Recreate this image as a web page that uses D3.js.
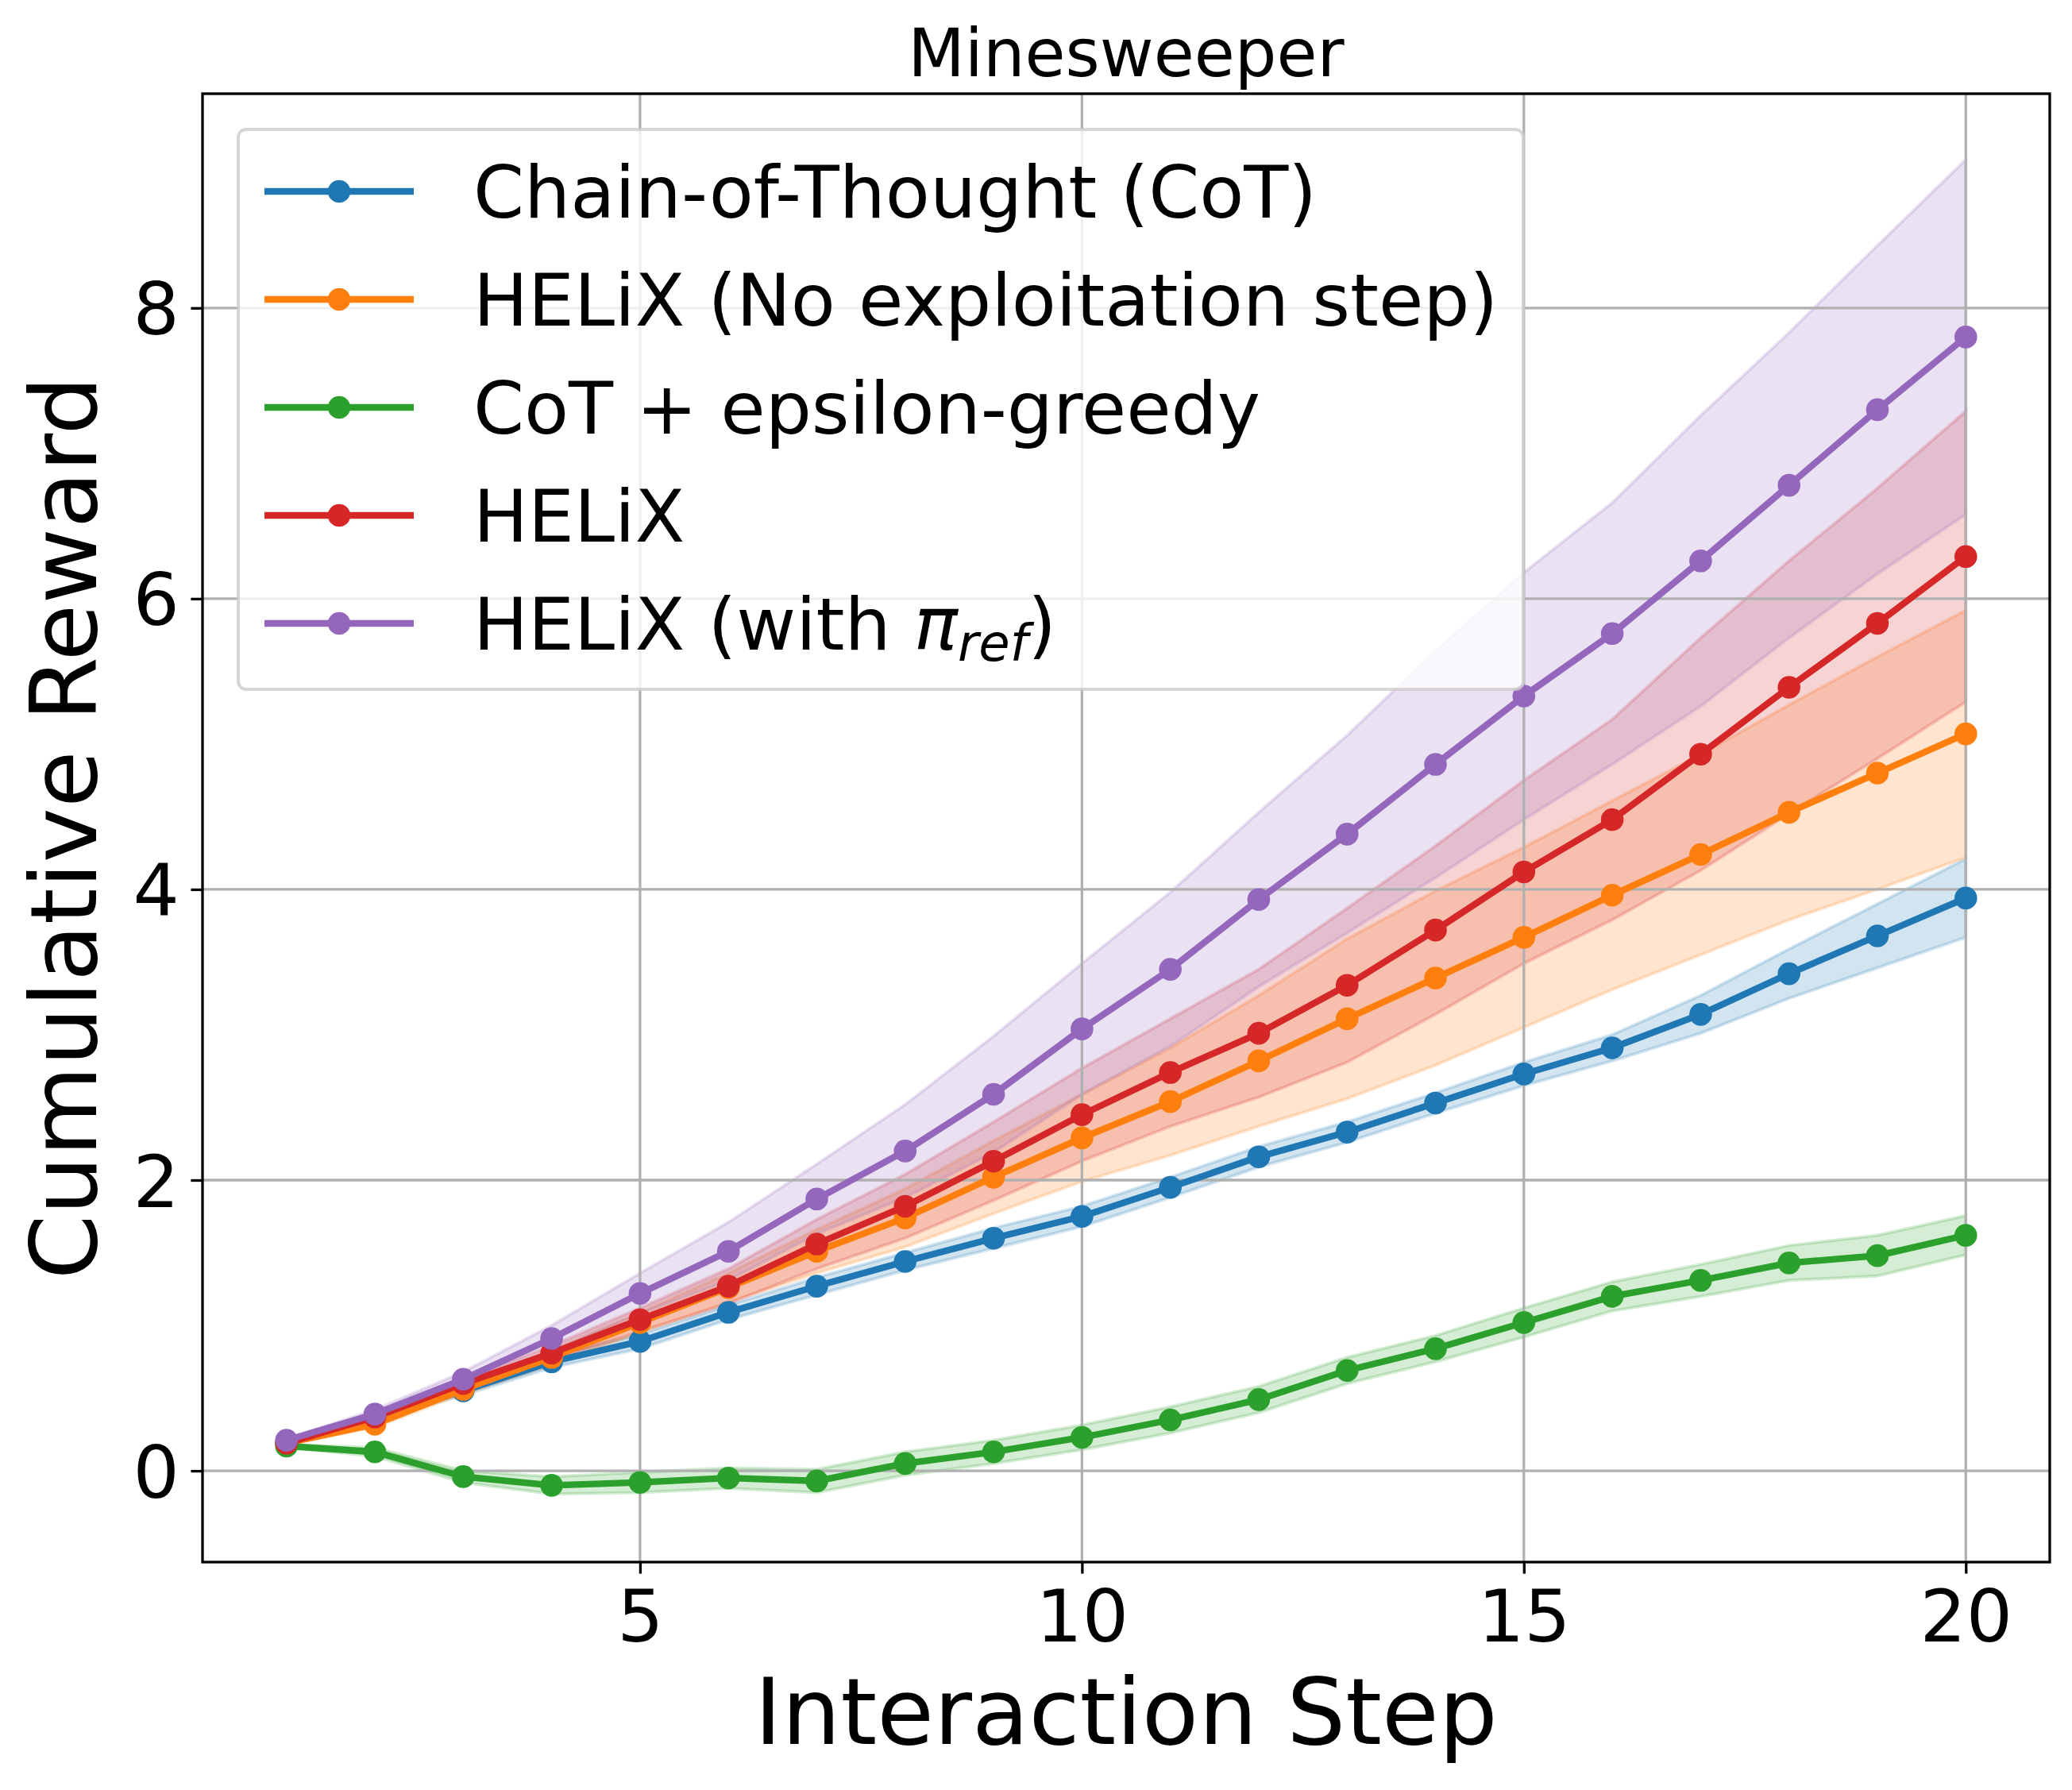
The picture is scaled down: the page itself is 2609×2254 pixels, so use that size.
<!DOCTYPE html>
<html>
<head>
<meta charset="utf-8">
<script src="https://cdn.jsdelivr.net/npm/d3@7"></script>
<style>
  html, body { margin: 0; padding: 0; background: #fff; }
  svg { display: block; font-family: "DejaVu Sans", sans-serif; }
</style>
</head>
<body>
<svg id="chart" width="2609" height="2254"></svg>
<script>
// ---------------- data ----------------
const steps = [1,2,3,4,5,6,7,8,9,10,11,12,13,14,15,16,17,18,19,20];

const seriesNames = [
  "Chain-of-Thought (CoT)",
  "HELiX (No exploitation step)",
  "CoT + epsilon-greedy",
  "HELiX",
  "HELiX (with \u03C0ref)"
];
const seriesColors = ["#1f77b4", "#ff7f0e", "#2ca02c", "#d62728", "#9467bd"];

const cotMean   = [0.19,0.37,0.55,0.75,0.89,1.09,1.27,1.44,1.60,1.75,1.95,2.16,2.33,2.53,2.73,2.91,3.14,3.42,3.68,3.94];
const cotSd     = [0.01,0.02,0.03,0.04,0.05,0.05,0.06,0.06,0.07,0.07,0.07,0.07,0.07,0.07,0.08,0.09,0.13,0.17,0.22,0.27];

const noExpMean = [0.19,0.32,0.56,0.78,1.02,1.26,1.51,1.74,2.02,2.29,2.54,2.82,3.11,3.39,3.67,3.96,4.24,4.53,4.80,5.07];
const noExpSd   = [0.01,0.02,0.03,0.05,0.07,0.10,0.15,0.20,0.25,0.30,0.37,0.45,0.55,0.60,0.62,0.65,0.69,0.74,0.80,0.85];

const epsMean   = [0.17,0.13,-0.04,-0.10,-0.08,-0.05,-0.07,0.05,0.13,0.23,0.35,0.49,0.69,0.84,1.02,1.20,1.31,1.43,1.48,1.62];
const epsSd     = [0.01,0.03,0.04,0.06,0.07,0.07,0.08,0.08,0.08,0.085,0.09,0.09,0.09,0.09,0.10,0.10,0.11,0.12,0.14,0.135];

const helixMean = [0.19,0.37,0.60,0.81,1.04,1.27,1.56,1.82,2.13,2.45,2.74,3.01,3.34,3.72,4.12,4.48,4.93,5.39,5.83,6.29];
const helixSd   = [0.01,0.02,0.03,0.05,0.08,0.12,0.17,0.22,0.27,0.32,0.37,0.44,0.53,0.58,0.63,0.69,0.80,0.87,0.93,1.00];

const refMean   = [0.21,0.39,0.63,0.91,1.22,1.51,1.87,2.20,2.59,3.04,3.45,3.93,4.38,4.86,5.33,5.76,6.26,6.78,7.30,7.80];
const refSd     = [0.01,0.03,0.05,0.09,0.14,0.20,0.24,0.32,0.40,0.45,0.53,0.60,0.68,0.78,0.85,0.90,1.00,1.05,1.13,1.22];

const xTicks = [5, 10, 15, 20];
const yTicks = [0, 2, 4, 6, 8];

const titleText = "Minesweeper";
const xLabel = "Interaction Step";
const yLabel = "Cumulative Reward";

// ---------------- layout ----------------
const L = 255, R = 2581, T = 118, B = 1967;
const svg = d3.select("#chart");
svg.append("rect").attr("width", 2609).attr("height", 2254).attr("fill", "#fff");

const x = d3.scaleLinear().domain([0.05, 20.95]).range([L, R]);
const y = d3.scaleLinear().domain([-0.628, 9.474]).range([B, T]);

const means = [cotMean, noExpMean, epsMean, helixMean, refMean];
const sds = [cotSd, noExpSd, epsSd, helixSd, refSd];
const series = means.map((m, i) => ({
  name: seriesNames[i],
  color: seriesColors[i],
  pts: steps.map((s, j) => ({ s, m: m[j], lo: m[j] - sds[i][j], hi: m[j] + sds[i][j] }))
}));

// bands (below grid)
const area = d3.area().x(d => x(d.s)).y0(d => y(d.lo)).y1(d => y(d.hi));
const gBands = svg.append("g");
series.forEach(s => {
  gBands.append("path")
    .attr("d", area(s.pts))
    .attr("fill", s.color).attr("fill-opacity", 0.2)
    .attr("stroke", s.color).attr("stroke-opacity", 0.2).attr("stroke-width", 4);
});

// grid
const gGrid = svg.append("g").attr("stroke", "#b0b0b0").attr("stroke-width", 3.3);
xTicks.forEach(t => gGrid.append("line").attr("x1", x(t)).attr("x2", x(t)).attr("y1", T).attr("y2", B));
yTicks.forEach(t => gGrid.append("line").attr("x1", L).attr("x2", R).attr("y1", y(t)).attr("y2", y(t)));

// lines + markers
const line = d3.line().x(d => x(d.s)).y(d => y(d.m));
series.forEach(s => {
  const g = svg.append("g");
  g.append("path").attr("d", line(s.pts)).attr("fill", "none")
    .attr("stroke", s.color).attr("stroke-width", 8.3).attr("stroke-linejoin", "round");
  g.selectAll("circle").data(s.pts).join("circle")
    .attr("cx", d => x(d.s)).attr("cy", d => y(d.m)).attr("r", 14.3).attr("fill", s.color);
});

// spines
svg.append("rect").attr("x", L).attr("y", T).attr("width", R - L).attr("height", B - T)
  .attr("fill", "none").attr("stroke", "#000").attr("stroke-width", 3.3);

// axes
const xAxis = svg.append("g").attr("transform", `translate(0,${B})`)
  .call(d3.axisBottom(x).tickValues(xTicks).tickSize(14.6).tickPadding(20).tickFormat(d3.format("d")));
const yAxis = svg.append("g").attr("transform", `translate(${L},0)`)
  .call(d3.axisLeft(y).tickValues(yTicks).tickSize(14.6).tickPadding(14.6).tickFormat(d3.format("d")));
[xAxis, yAxis].forEach(a => {
  a.select(".domain").remove();
  a.selectAll(".tick line").attr("stroke", "#000").attr("stroke-width", 3.3);
  a.selectAll(".tick text").attr("font-size", 91.7).attr("fill", "#000")
    .attr("font-family", "DejaVu Sans");
});
yAxis.selectAll(".tick text").attr("dy", "0.36em");

// labels
svg.append("text").attr("x", (L + R) / 2).attr("y", 96).attr("text-anchor", "middle")
  .attr("font-size", 83).text(titleText);
svg.append("text").attr("x", (L + R) / 2).attr("y", 2196).attr("text-anchor", "middle")
  .attr("font-size", 116.7).text(xLabel);
svg.append("text").attr("transform", `translate(121,${(T + B) / 2}) rotate(-90)`)
  .attr("text-anchor", "middle").attr("font-size", 116.7).text(yLabel);

// legend
const lg = svg.append("g");
lg.append("rect").attr("x", 300).attr("y", 163).attr("width", 1618).attr("height", 705)
  .attr("rx", 10).attr("ry", 10)
  .attr("fill", "#fff").attr("fill-opacity", 0.8)
  .attr("stroke", "#cccccc").attr("stroke-opacity", 0.8).attr("stroke-width", 4);
series.forEach((s, i) => {
  const cy = 241 + i * 136;
  lg.append("line").attr("x1", 333).attr("x2", 521).attr("y1", cy).attr("y2", cy)
    .attr("stroke", s.color).attr("stroke-width", 8.3);
  lg.append("circle").attr("cx", 427).attr("cy", cy).attr("r", 14.3).attr("fill", s.color);
  const t = lg.append("text").attr("x", 596).attr("y", cy + 33).attr("font-size", 91.7);
  if (i === 4) {
    t.append("tspan").text("HELiX (with ");
    t.append("tspan").attr("font-style", "italic").text("\u03C0");
    t.append("tspan").attr("font-style", "italic").attr("font-size", 64).attr("dy", 14).text("ref");
    t.append("tspan").attr("dy", -14).text(")");
  } else {
    t.text(s.name);
  }
});
</script>
</body>
</html>
